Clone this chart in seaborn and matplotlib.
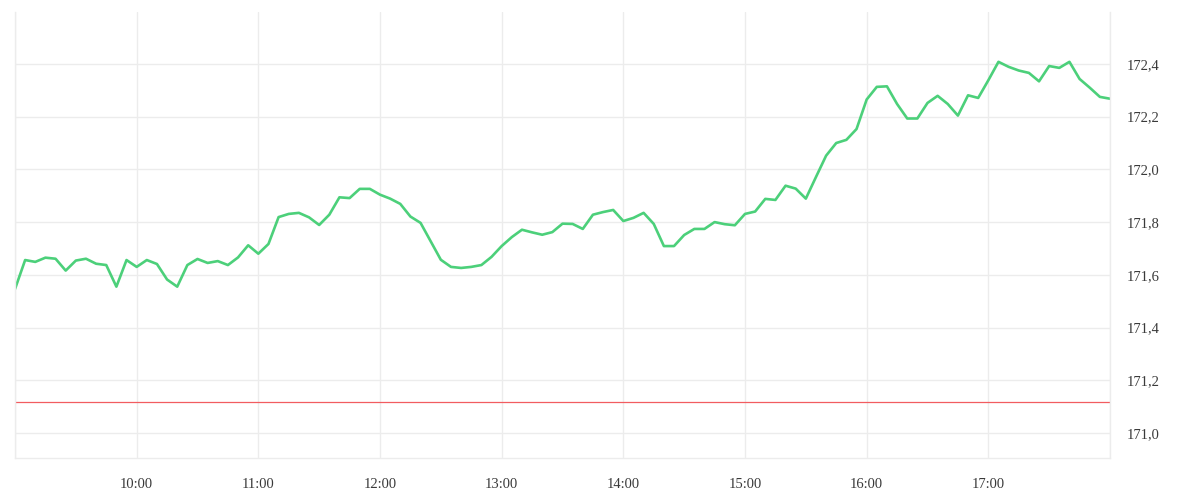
import pandas as pd
import matplotlib
matplotlib.use("Agg")
import matplotlib.pyplot as plt
import matplotlib.dates as mdates
from matplotlib.ticker import FuncFormatter, FixedLocator
import seaborn as sns

# intraday prices, one value every 5 minutes from 09:00 to 18:00
prices = [
    171.546, 171.656, 171.649, 171.665, 171.661, 171.616, 171.654, 171.661, 171.642, 171.637,
    171.555, 171.656, 171.630, 171.656, 171.641, 171.582, 171.555, 171.637, 171.660, 171.645,
    171.652, 171.637, 171.666, 171.712, 171.680, 171.717, 171.819, 171.831, 171.835, 171.818,
    171.789, 171.828, 171.894, 171.891, 171.926, 171.926, 171.904, 171.889, 171.869, 171.821,
    171.797, 171.727, 171.657, 171.630, 171.626, 171.630, 171.637, 171.668, 171.709, 171.743,
    171.771, 171.761, 171.752, 171.762, 171.794, 171.793, 171.774, 171.828, 171.838, 171.846,
    171.804, 171.816, 171.835, 171.793, 171.709, 171.709, 171.751, 171.774, 171.774, 171.800,
    171.792, 171.788, 171.831, 171.840, 171.888, 171.884, 171.938, 171.927, 171.889, 171.971,
    172.052, 172.100, 172.112, 172.153, 172.265, 172.313, 172.315, 172.248, 172.193, 172.193,
    172.252, 172.279, 172.248, 172.204, 172.281, 172.271, 172.338, 172.408, 172.389, 172.375,
    172.366, 172.334, 172.392, 172.385, 172.408, 172.343, 172.310, 172.275, 172.268,
]
start_time = "2024-01-02 09:00"
end_time = "2024-01-02 18:00"
previous_close = 171.117
y_ticks = [171.0, 171.2, 171.4, 171.6, 171.8, 172.0, 172.2, 172.4]
y_range = (170.905, 172.597)

df = pd.DataFrame({
    "time": pd.date_range(start_time, periods=len(prices), freq="5min"),
    "price": prices,
})

sns.set_style("white")
plt.rcParams["font.family"] = ["Liberation Serif", "DejaVu Serif"]

fig = plt.figure(figsize=(12, 5), dpi=100)
ax = fig.add_axes([0.0125, 0.084, 0.9125, 0.892])

sns.lineplot(data=df, x="time", y="price", ax=ax, color="#4cd07a", linewidth=1.9)
ax.axhline(previous_close, color="#f25c60", linewidth=0.9)

ax.set_xlim(pd.Timestamp(start_time), pd.Timestamp(end_time))
ax.set_ylim(*y_range)

# hourly grid, labels only for the inner hours
hours = pd.date_range(start_time, end_time, freq="1h")
ax.xaxis.set_major_locator(FixedLocator(mdates.date2num(hours)))
ax.xaxis.set_major_formatter(FuncFormatter(
    lambda v, pos: "" if pos in (0, len(hours) - 1) else mdates.num2date(v).strftime("%H:%M")))
ax.yaxis.set_major_locator(FixedLocator(y_ticks))
ax.yaxis.set_major_formatter(FuncFormatter(lambda v, pos: f"{v:.1f}".replace(".", ",")))
ax.yaxis.tick_right()

ax.grid(True, color="#ececec", linewidth=1)
ax.tick_params(axis="both", length=0, labelsize=10.5, labelcolor="#3a3a3a")
ax.tick_params(axis="y", pad=12.3)
ax.tick_params(axis="x", pad=14.5)
ax.set_xlabel("")
ax.set_ylabel("")

for side in ["left", "right", "bottom"]:
    ax.spines[side].set_visible(True)
    ax.spines[side].set_color("#ececec")
    ax.spines[side].set_linewidth(1)
ax.spines["top"].set_visible(False)

fig.savefig("out.png", dpi=100)
